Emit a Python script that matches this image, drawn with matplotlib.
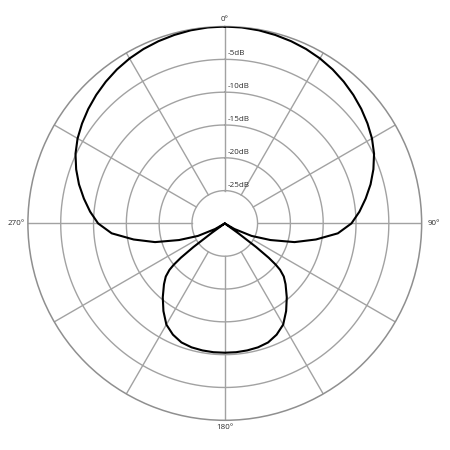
import numpy as np
import matplotlib
matplotlib.use('Agg')
import matplotlib.pyplot as plt

# polar response (one half, the other side is a mirror)
half_angles = [0, 5, 10, 15, 20, 25, 30, 35, 40, 45, 50, 55, 60, 65, 70, 75, 80,
               85, 90, 95, 100, 105, 110, 115, 120, 123, 125, 126, 127, 128, 129,
               130, 132, 135, 140, 145, 150, 155, 160, 165, 170, 175, 180]
half_db = [0.0, -0.03, -0.12, -0.27, -0.45, -0.68, -0.98, -1.35, -1.8, -2.3, -2.85,
           -3.45, -4.1, -4.9, -5.9, -7.0, -8.2, -9.4, -10.7, -12.7, -15.9, -19.0,
           -22.6, -25.5, -28.3, -30.0, -30.0, -27.5, -24.0, -21.5, -20.0, -19.0,
           -17.9, -16.9, -15.3, -13.7, -12.2, -11.3, -10.7, -10.45, -10.35, -10.3, -10.3]

ring_levels = [-25, -20, -15, -10, -5]
ring_labels = ['-25dB', '-20dB', '-15dB', '-10dB', '-5dB']
spoke_angles = list(range(0, 360, 30))
angle_labels = ['0°', '90°', '180°', '270°']

grid_col = '#a2a2a2'
text_col = '#2e2e2e'

angles = half_angles + [360 - a for a in half_angles[::-1]]
levels = half_db + half_db[::-1]

fig = plt.figure(figsize=(4.5, 4.5), dpi=100)
ax = fig.add_axes([0.062, 0.066, 0.875, 0.875], projection='polar')
ax.set_theta_zero_location('N')
ax.set_theta_direction(-1)
ax.set_ylim(-30, 0)
ax.grid(False)
ax.set_xticks([])
ax.set_yticks([])
ax.spines['polar'].set_color('#8f8f8f')
ax.spines['polar'].set_linewidth(1.1)

# rings
circ = np.linspace(0, 2 * np.pi, 361)
for lv in ring_levels:
    ax.plot(circ, np.full_like(circ, lv), color=grid_col, lw=1.0, zorder=1)

# spokes from the inner ring out
for a in spoke_angles:
    t = np.deg2rad(a)
    ax.plot([t, t], [-25, 0], color=grid_col, lw=1.0, zorder=1)

for lv, lab in zip(ring_levels, ring_labels):
    ax.annotate(lab, xy=(0, lv), xytext=(2, 1.5), textcoords='offset points',
                ha='left', va='bottom', fontsize=5.8, color=text_col,
                family='Open Sans')

# angle labels around the rim
fs = 5.8
ax.annotate(angle_labels[0], xy=(0, 0), xytext=(0, 2.5), textcoords='offset points',
            ha='center', va='bottom', fontsize=fs, color=text_col, family='Open Sans')
ax.annotate(angle_labels[1], xy=(np.pi / 2, 0), xytext=(4, 0), textcoords='offset points',
            ha='left', va='center', fontsize=fs, color=text_col, family='Open Sans')
ax.annotate(angle_labels[2], xy=(np.pi, 0), xytext=(0, -3), textcoords='offset points',
            ha='center', va='top', fontsize=fs, color=text_col, family='Open Sans')
ax.annotate(angle_labels[3], xy=(3 * np.pi / 2, 0), xytext=(-2, 0), textcoords='offset points',
            ha='right', va='center', fontsize=fs, color=text_col, family='Open Sans')

ax.plot(np.deg2rad(angles), levels, color='black', lw=1.5, zorder=3)

fig.savefig('out.png', dpi=100, facecolor='white')
